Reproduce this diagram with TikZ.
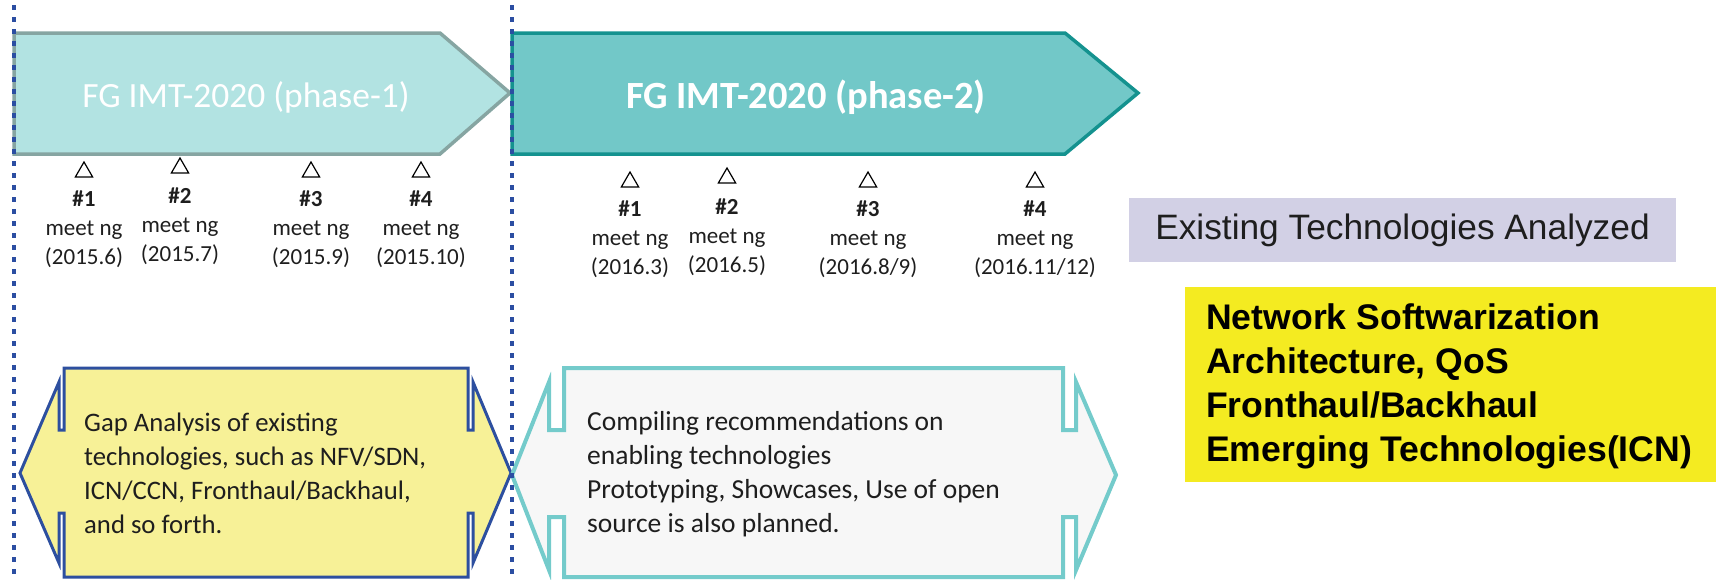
\documentclass[tikz,border=0pt]{standalone}
\usepackage{fontspec}
\setmainfont{Carlito}
\newfontfamily\arialfont{Liberation Sans}
\usetikzlibrary{shapes.geometric}
\definecolor{phaseonefill}{HTML}{B2E3E2}
\definecolor{phaseoneline}{HTML}{86A5A2}
\definecolor{phasetwofill}{HTML}{72C8C8}
\definecolor{phasetwoline}{HTML}{14928F}
\definecolor{sepblue}{HTML}{2B4EA2}
\definecolor{gapfill}{HTML}{F7F197}
\definecolor{gapline}{HTML}{2D4F9F}
\definecolor{recfill}{HTML}{F7F7F7}
\definecolor{recline}{HTML}{74CBCB}
\definecolor{lavender}{HTML}{D2D0E5}
\definecolor{brightyellow}{HTML}{F4EB21}
\definecolor{textdark}{HTML}{1E1E1E}
\tikzset{
  sepline/.style={draw=sepblue, line width=4pt, dash pattern=on 5pt off 7pt},
  tri/.style={regular polygon, regular polygon sides=3, draw, line width=1.2pt, minimum size=20pt, inner sep=0pt},
  meet/.style={align=center, text=textdark, font=\fontsize{23}{29}\selectfont, inner sep=0pt},
  bodytext/.style={align=left, text=textdark, anchor=west, inner sep=0pt}
}

\begin{document}
\begin{tikzpicture}[x=1pt,y=-1pt]
\useasboundingbox (0,0) rectangle (1716,579);

\draw [fill=phaseonefill, draw=phaseoneline, line width=3.5pt, line join=miter]
  (14,33) -- (440,33) -- (510,93) -- (440,154) -- (14,154) -- cycle;
\node (phaseone) [text=white, font=\fontsize{35.5}{40}\selectfont] at (246,97) {FG IMT-2020 (phase-1)};

\draw [fill=phasetwofill, draw=phasetwoline, line width=3.5pt, line join=miter]
  (512,33) -- (1065,33) -- (1138,93) -- (1065,154) -- (512,154) -- cycle;
\node (phasetwo) [text=white, font=\bfseries\fontsize{38.5}{44}\selectfont] at (806,97) {FG IMT-2020 (phase-2)};

\foreach \i/\x/\t/\y/\d in {1/84/172/229/2015.6, 2/180/168/226/2015.7, 3/311/172/229/2015.9, 4/421/172/229/2015.10}
{
\node (pone\i) [tri] at (\x,\t) {};
\node (ponemeet\i) [meet] at (\x,\y) {\textbf{\#\i}\\meet ng\\(\d)};
}

\foreach \i/\x/\t/\y/\d in {1/630/182/239/2016.3, 2/727/178/237/2016.5, 3/868/182/239/{2016.8/9}, 4/1035/182/239/{2016.11/12}}
{
\node (ptwo\i) [tri] at (\x,\t) {};
\node (ptwomeet\i) [meet] at (\x,\y) {\textbf{\#\i}\\meet ng\\(\d)};
}

\draw [fill=gapfill, draw=gapline, line width=3pt, line join=miter]
  (64,368) -- (468,368) -- (468,430) -- (473,430) -- (473,382) -- (511,473)
  -- (473,563) -- (473,513) -- (468,513) -- (468,577) -- (64,577) -- (64,513)
  -- (59,513) -- (59,563) -- (20,473) -- (59,382) -- (59,430) -- (64,430) -- cycle;
\node (gap) [bodytext, font=\fontsize{26.7}{34}\selectfont] at (84,473)
  {Gap Analysis of existing\\technologies, such as NFV/SDN,\\ICN/CCN, Fronthaul/Backhaul,\\and so forth.};

\draw [fill=recfill, draw=recline, line width=4pt, line join=miter]
  (564,368) -- (1063,368) -- (1063,430) -- (1076,430) -- (1076,382) -- (1116,475)
  -- (1076,570) -- (1076,517) -- (1063,517) -- (1063,577) -- (564,577) -- (564,517)
  -- (549,517) -- (549,570) -- (512,475) -- (549,382) -- (549,430) -- (564,430) -- cycle;
\node (rec) [bodytext, font=\fontsize{27.5}{34}\selectfont] at (587,474)
  {Compiling recommendations on\\enabling technologies\\Prototyping, Showcases, Use of open\\source is also planned.};

\node (existing) [fill=lavender, minimum width=547pt, minimum height=64pt, inner sep=0pt,
  text=textdark, font=\arialfont\fontsize{35.3}{40}\selectfont] at (1402.5,230) {Existing Technologies Analyzed};

\fill [brightyellow] (1185,287) rectangle (1716,482);
\node (focus) [bodytext, text=black, font=\arialfont\bfseries\fontsize{35.6}{44}\selectfont] at (1206,386)
  {Network Softwarization\\Architecture, QoS\\Fronthaul/Backhaul\\Emerging Technologies(ICN)};

\draw [sepline] (14,5) -- (14,579);
\draw [sepline] (512,5) -- (512,579);
\end{tikzpicture}
\end{document}
